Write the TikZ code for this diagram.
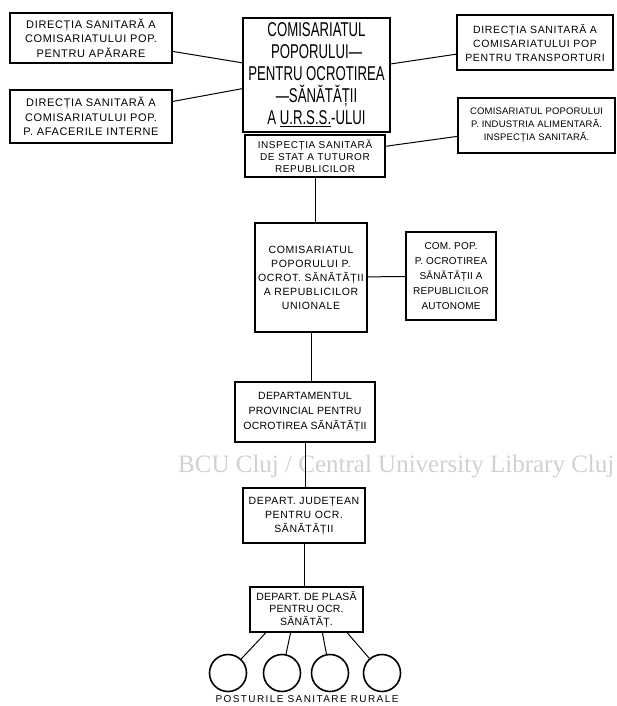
\documentclass[tikz,border=0pt]{standalone}
\usepackage{fontspec}
\setmainfont{Liberation Sans}
\newfontfamily\boxfont[LetterSpace=6]{Liberation Sans}
\newfontfamily\tightfont[LetterSpace=2]{Liberation Sans}
\newfontfamily\widefont[LetterSpace=14]{Liberation Sans}
\newfontfamily\bigfont[FakeStretch=0.66]{Liberation Sans}
\newfontfamily\wmfont{Liberation Serif}
\usetikzlibrary{positioning}
\usetikzlibrary{graphs}
\tikzset{
    orgbox/.style={draw,line width=2.2pt,align=center,inner sep=2pt,
        font=\boxfont\fontsize{10.5}{14}\selectfont},
    mainbox/.style={orgbox,font=\bigfont\fontsize{20}{22}\selectfont},
    post/.style={draw,circle,line width=1.6pt,minimum size=37pt,inner sep=0pt},
    conn/.style={line width=1pt}
}

\begin{document}
\begin{tikzpicture}[x=1pt,y=-1pt]
            \useasboundingbox[fill=white] (0,0) rectangle (617,706);

            \node (comUrss) [mainbox,minimum width=147pt,minimum height=114pt] at (316.5,75)
                {COMISARIATUL\\POPORULUI—\\PENTRU OCROTIREA\\—SĂNĂTĂȚII\\A \underline{U.R.S.S.}-ULUI};
            \node (insp) [orgbox,minimum width=140pt,minimum height=42pt,font=\boxfont\fontsize{10}{12}\selectfont] at (315,156)
                {INSPECȚIA SANITARĂ\\DE STAT A TUTUROR\\REPUBLICILOR};
            \node (dirAp) [orgbox,minimum width=162pt,minimum height=50pt,font=\boxfont\fontsize{11}{14.5}\selectfont] at (91,38)
                {DIRECȚIA SANITARĂ A\\COMISARIATULUI POP.\\PENTRU APĂRARE};
            \node (dirInt) [orgbox,minimum width=162pt,minimum height=53pt,font=\boxfont\fontsize{11}{14.5}\selectfont] at (91,116.5)
                {DIRECȚIA SANITARĂ A\\COMISARIATULUI POP.\\P. AFACERILE INTERNE};
            \node (dirTr) [orgbox,minimum width=156pt,minimum height=55pt] at (535,42.5)
                {DIRECȚIA SANITARĂ A\\COMISARIATULUI POP\\PENTRU TRANSPORTURI};
            \node (comAlim) [orgbox,minimum width=157pt,minimum height=55pt,font=\tightfont\fontsize{9.5}{13}\selectfont] at (536.5,125.5)
                {COMISARIATUL POPORULUI\\P. INDUSTRIA ALIMENTARĂ.\\INSPECȚIA SANITARĂ.};

            \node (comRep) [orgbox,minimum width=112pt,minimum height=109pt] at (311,277.5)
                {COMISARIATUL\\POPORULUI P.\\OCROT. SĂNĂTĂȚII\\A REPUBLICILOR\\UNIONALE};
            \node (comAut) [orgbox,minimum width=90pt,minimum height=88pt,font=\tightfont\fontsize{10}{15}\selectfont] at (451,276)
                {COM. POP.\\P. OCROTIREA\\SĂNĂTĂȚII A\\REPUBLICILOR\\AUTONOME};
            \node (depProv) [orgbox,minimum width=140pt,minimum height=60pt,font=\tightfont\fontsize{10.5}{15}\selectfont] at (305,412)
                {DEPARTAMENTUL\\PROVINCIAL PENTRU\\OCROTIREA SĂNĂTĂȚII};
            \node (depJud) [orgbox,minimum width=122pt,minimum height=55pt] at (304,515.5)
                {DEPART. JUDEȚEAN\\PENTRU OCR.\\SĂNĂTĂȚII};
            \node (depPlasa) [orgbox,minimum width=113pt,minimum height=45pt,font=\tightfont\fontsize{10.5}{12.5}\selectfont] at (306.5,609.5)
                {DEPART. DE PLASĂ\\PENTRU OCR.\\SĂNĂTĂȚ.};

            \node (c1) [post] at (228,673) {};
            \node (c2) [post] at (282,673) {};
            \node (c3) [post] at (330,673) {};
            \node (c4) [post] at (382,673) {};
            \node (posturi) [font=\widefont\fontsize{10}{11}\selectfont,inner sep=0pt] at (307,699) {POSTURILE SANITARE RURALE};

            % watermark of the scan
            \node (wm) [anchor=west,text=black!18,font=\wmfont\fontsize{25}{28}\selectfont,inner sep=0pt] at (178,467)
                {BCU Cluj / Central University Library Cluj};

            \graph[edges=conn]{
                (dirAp) -- (comUrss);
                (dirInt) -- (comUrss);
                (comUrss) -- (dirTr);
                (insp) -- (comAlim);
                (comRep) -- (comAut);
            };

            \draw[conn] (insp.south) -- (insp.south |- comRep.north);
            \draw[conn] (comRep.south) -- (comRep.south |- depProv.north);
            \draw[conn] (depProv.south) -- (depProv.south |- depJud.north);
            \draw[conn] (depJud.south) -- (depJud.south |- depPlasa.north);
            \draw[conn] ([xshift=-41pt]depPlasa.south) -- (c1);
            \draw[conn] ([xshift=-16pt]depPlasa.south) -- (c2);
            \draw[conn] ([xshift=16pt]depPlasa.south) -- (c3);
            \draw[conn] ([xshift=41pt]depPlasa.south) -- (c4);
        \end{tikzpicture}
\end{document}
